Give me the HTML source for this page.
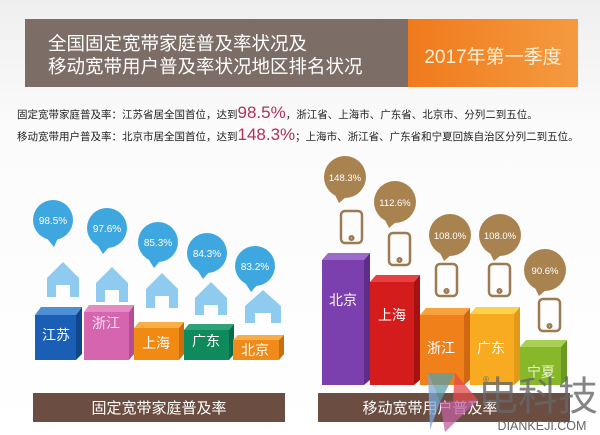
<!DOCTYPE html>
<html><head><meta charset="utf-8"><style>
html,body{margin:0;padding:0;background:#fff}
svg{display:block}
text{font-family:"Liberation Sans","Noto Sans CJK SC",sans-serif}
</style></head><body>
<svg width="600" height="435" viewBox="0 0 600 435" xmlns="http://www.w3.org/2000/svg">
<defs>
<linearGradient id="bg" x1="0" y1="0" x2="0" y2="1"><stop offset="0" stop-color="#efefef"/><stop offset="0.3" stop-color="#fbfbfb"/><stop offset="1" stop-color="#fff"/></linearGradient>
<linearGradient id="or" x1="0" y1="0" x2="1" y2="0"><stop offset="0" stop-color="#ef7a1c"/><stop offset="1" stop-color="#f59a40"/></linearGradient>
</defs>
<rect width="600" height="435" fill="url(#bg)"/>
<!-- header -->
<rect x="25" y="19" width="383" height="68" fill="#7c6d66"/>
<rect x="408" y="19" width="170" height="68" fill="url(#or)"/>
<text x="48" y="50" font-size="18.5" fill="#fff">全国固定宽带家庭普及率状况及</text>
<text x="48" y="73" font-size="18.5" fill="#fff">移动宽带用户普及率状况地区排名状况</text>
<text x="493" y="63" font-size="19" fill="#fdf0d8" text-anchor="middle">2017年第一季度</text>
<text x="17" y="118" font-size="10.5" fill="#222">固定宽带家庭普及率：江苏省居全国首位，达到<tspan font-size="17" fill="#b0305a">98.5%</tspan>，浙江省、上海市、广东省、北京市、分列二到五位。</text>
<text x="17" y="140" font-size="10.5" fill="#222">移动宽带用户普及率：北京市居全国首位，达到<tspan font-size="17" fill="#b0305a">148.3%</tspan>；上海市、浙江省、广东省和宁夏回族自治区分列二到五位。</text>

<!-- left chart bubbles -->
<g fill="#3ea7df">
<circle cx="53" cy="220" r="20"/><path d="M45 236 L54 247 L58 238Z"/>
<circle cx="107" cy="228" r="20"/><path d="M96 243 L103 254 L110 246Z"/>
<circle cx="158" cy="242" r="20"/><path d="M147 257 L154 268 L161 260Z"/>
<circle cx="207" cy="253" r="20"/><path d="M196 268 L203 279 L210 271Z"/>
<circle cx="255" cy="266" r="20"/><path d="M244 281 L251 292 L258 284Z"/>
</g>
<g fill="#fff" font-size="10" text-anchor="middle">
<text x="53" y="224">98.5%</text><text x="107" y="232">97.6%</text><text x="158" y="246">85.3%</text><text x="207" y="257">84.3%</text><text x="255" y="270">83.2%</text>
</g>
<!-- houses -->
<g fill="#8fcbee">
<path d="M47 278 L63 262 L79 278 L79 297 L70 297 L70 285 L56 285 L56 297 L47 297Z"/>
<path d="M96 283 L112 267 L128 283 L128 302 L119 302 L119 290 L105 290 L105 302 L96 302Z"/>
<path d="M146 289 L162 273 L178 289 L178 308 L169 308 L169 296 L155 296 L155 308 L146 308Z"/>
<path d="M195 298 L211 282 L227 298 L227 315 L218 315 L218 305 L204 305 L204 315 L195 315Z"/>
<path d="M245 306 L263 290 L281 306 L281 323 L271 323 L271 313 L255 313 L255 323 L245 323Z"/>
</g>
<!-- cubes -->
<g>
<path d="M35 315 L41 307 L82 307 L76 315Z" fill="#4f8fd6"/><rect x="35" y="315" width="41" height="45" fill="#1a5fb5"/><path d="M76 315 L82 307 L82 354 L76 360Z" fill="#10468c"/>
<path d="M84 312 L89 305 L134 305 L129 312Z" fill="#e58ac3"/><rect x="84" y="312" width="45" height="48" fill="#d465ae"/><path d="M129 312 L134 305 L134 354 L129 360Z" fill="#b44e92"/>
<path d="M134 328 L139 322 L184 322 L179 328Z" fill="#f8b046"/><rect x="134" y="328" width="45" height="32" fill="#f08a12"/><path d="M179 328 L184 322 L184 354 L179 360Z" fill="#cc6c0c"/>
<path d="M184 330 L189 324 L234 324 L229 330Z" fill="#30a27a"/><rect x="184" y="330" width="45" height="30" fill="#0e8a5c"/><path d="M229 330 L234 324 L234 354 L229 360Z" fill="#086b47"/>
<path d="M233 340 L238 335 L284 335 L279 340Z" fill="#f8ae48"/><rect x="233" y="340" width="46" height="20" fill="#f08a18"/><path d="M279 340 L284 335 L284 354 L279 360Z" fill="#c8700f"/>
</g>
<g fill="#fff" font-size="14" text-anchor="middle">
<text x="56" y="340">江苏</text><text x="106" y="328" fill="#fbe2f1">浙江</text><text x="156" y="348">上海</text><text x="206" y="346">广东</text><text x="255" y="355">北京</text>
</g>
<rect x="33" y="393" width="252" height="29" fill="#6b4d41"/>
<text x="159" y="413" font-size="15" fill="#fff" text-anchor="middle">固定宽带家庭普及率</text>

<!-- right chart bars -->
<g>
<path d="M322 260 L328 253 L370 253 L364 260Z" fill="#9a6cc7"/><rect x="322" y="260" width="42" height="125" fill="#7c3fae"/><path d="M364 260 L370 253 L370 380 L364 385Z" fill="#5e2d88"/>
<path d="M370 282 L376 275 L420 275 L414 282Z" fill="#e84040"/><rect x="370" y="282" width="44" height="103" fill="#d41c1c"/><path d="M414 282 L420 275 L420 380 L414 385Z" fill="#a51212"/>
<path d="M420 315 L426 308 L470 308 L464 315Z" fill="#f7a23c"/><rect x="420" y="315" width="44" height="70" fill="#f0801a"/><path d="M464 315 L470 308 L470 380 L464 385Z" fill="#d06812"/>
<path d="M470 314 L476 307 L520 307 L514 314Z" fill="#fbd24a"/><rect x="470" y="314" width="44" height="71" fill="#f8ab20"/><path d="M514 314 L520 307 L520 380 L514 385Z" fill="#e09a18"/>
<path d="M520 347 L526 340 L567 340 L561 347Z" fill="#a8d054"/><rect x="520" y="347" width="41" height="38" fill="#86b82a"/><path d="M561 347 L567 340 L567 380 L561 385Z" fill="#6a9820"/>
</g>
<g fill="#fff" font-size="14" text-anchor="middle">
<text x="343" y="305">北京</text><text x="392" y="320">上海</text><text x="441" y="353">浙江</text><text x="491" y="353">广东</text><text x="541" y="377" fill="#f0f7d0">宁夏</text>
</g>
<!-- brown bubbles -->
<g fill="#a8834f">
<circle cx="345" cy="177" r="21"/><path d="M334 193 L339 203 L346 197Z"/>
<circle cx="395" cy="202" r="21"/><path d="M384 218 L389 228 L396 222Z"/>
<circle cx="450" cy="235" r="21"/><path d="M439 251 L444 261 L451 255Z"/>
<circle cx="500" cy="235" r="21"/><path d="M489 251 L494 261 L501 255Z"/>
<circle cx="545" cy="270" r="21"/><path d="M534 286 L539 296 L546 290Z"/>
</g>
<g fill="#fff" font-size="9.5" text-anchor="middle">
<text x="345" y="181">148.3%</text><text x="395" y="206">112.6%</text><text x="450" y="239">108.0%</text><text x="500" y="239">108.0%</text><text x="545" y="274">90.6%</text>
</g>
<!-- phones -->
<g fill="none" stroke="#9c7a52" stroke-width="2.5">
<rect x="341" y="211" width="21" height="32" rx="4"/><circle cx="351.5" cy="238" r="1.8"/>
<rect x="389" y="233" width="21" height="32" rx="4"/><circle cx="399.5" cy="260" r="1.8"/>
<rect x="436" y="264" width="21" height="32" rx="4"/><circle cx="446.5" cy="291" r="1.8"/>
<rect x="489" y="264" width="21" height="32" rx="4"/><circle cx="499.5" cy="291" r="1.8"/>
<rect x="539" y="299" width="21" height="32" rx="4"/><circle cx="549.5" cy="326" r="1.8"/>
</g>
<rect x="318" y="393" width="252" height="29" fill="#6b4d41"/>
<text x="430" y="413" font-size="15" fill="#fff" text-anchor="middle">移动宽带用户普及率</text>
<!-- watermark -->
<g opacity="0.75">
<path d="M428 373 L455 373 L440 402Z" fill="#5aa0a8"/>
<path d="M455 373 L478 400 L452 412Z" fill="#e24b4b"/>
<path d="M428 373 L440 402 L430 430Z" fill="#7aa8d8"/>
<path d="M440 402 L478 400 L445 432Z" fill="#c060a0"/>
</g>
<text x="483" y="382" font-size="8" fill="#666">®</text>
<text x="538" y="410" font-size="40" fill="#666" fill-opacity="0.8" text-anchor="middle">电科技</text>
<text x="542" y="430" font-size="12.5" fill="#666" text-anchor="middle">DIANKEJI.COM</text>
</svg>
</body></html>
